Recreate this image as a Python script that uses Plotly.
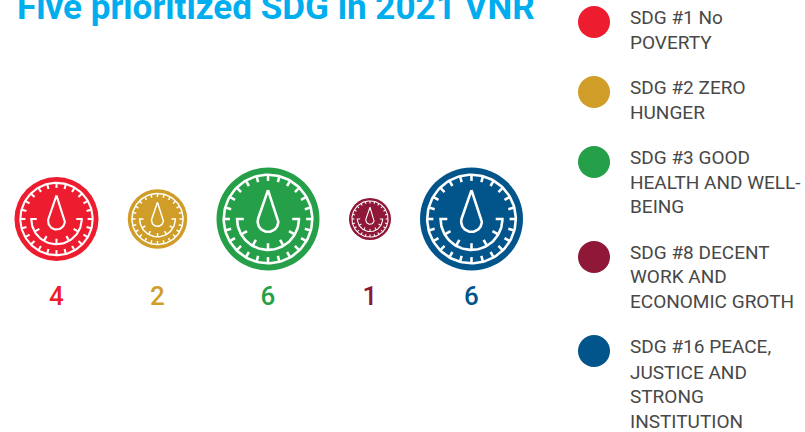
import math
import plotly.graph_objects as go

# ---- data ----
TITLE = "Five prioritized SDG in 2021 VNR"
values = [4, 2, 6, 1, 6]
colors = ["#ED1C2E", "#CF9D28", "#259F48", "#8F1838", "#02558B"]
legend_lines = [
    ["SDG #1 No", "POVERTY"],
    ["SDG #2 ZERO", "HUNGER"],
    ["SDG #3 GOOD", "HEALTH AND WELL-", "BEING"],
    ["SDG #8 DECENT", "WORK AND", "ECONOMIC GROTH"],
    ["SDG #16 PEACE,", "JUSTICE AND", "STRONG", "INSTITUTION"],
]

# ---- layout (pixel-scale axes) ----
W, H = 805, 432
centers_x = [56.5, 157.5, 268, 370, 471.5]
center_y = 219
label_y = 298.5
MAX_R = 51.5
legend_dot_x = 594
legend_dot_y = [22, 92, 162, 257, 351]
legend_text_x = 630
legend_text_y = [
    [17, 42],
    [87, 112],
    [157, 182, 206],
    [252, 276, 301],
    [346, 372, 396, 421],
]
title_color = "#00AEEF"
text_color = "#484848"


def radius(v):
    return MAX_R * math.sqrt(v / max(values))


def glyph(cx, cy, r):
    """Gauge glyph (outline paths) scaled to a bubble of radius r."""
    xs, ys = [], []

    def polar(rad, deg):
        a = math.radians(deg)
        return cx + rad * math.sin(a), cy - rad * math.cos(a)

    def path(points):
        for p in points:
            xs.append(p[0])
            ys.append(p[1])
        xs.append(None)
        ys.append(None)

    # rim ring and its ticks
    path([polar(0.86 * r, d) for d in range(0, 361, 3)])
    for d in range(0, 360, 15):
        path([polar(0.86 * r, d), polar(0.74 * r, d)])
    # inner arc with end caps and ticks
    ra = 0.6 * r
    arc = [polar(ra, d) for d in range(90, 271, 3)]
    path([(cx + 0.47 * r, cy)] + arc + [(cx - 0.47 * r, cy)])
    for d in (120, 150, 180, 210, 240):
        path([polar(ra, d), polar(ra - 0.13 * r, d)])
    # drop
    rd = 0.2 * r
    dy = cy + 0.05 * r
    tip = cy - 0.56 * r
    h = dy - tip
    t = math.degrees(math.acos(rd / h))
    drop = [(cx, tip)]
    for d in range(int(t), int(360 - t) + 1, 5):
        a = math.radians(d)
        drop.append((cx + rd * math.sin(a), dy - rd * math.cos(a)))
    drop.append((cx, tip))
    path(drop)
    return xs, ys


fig = go.Figure()

# value bubbles, area proportional to value
fig.add_trace(go.Scatter(
    x=centers_x,
    y=[center_y] * len(values),
    mode="markers",
    marker=dict(
        size=values, sizemode="area",
        sizeref=max(values) / 2 / MAX_R ** 2,
        color=colors, line=dict(width=0), opacity=1,
    ),
    hoverinfo="skip",
))

# gauge glyphs
for cx, v in zip(centers_x, values):
    r = radius(v)
    gx, gy = glyph(cx, center_y, r)
    fig.add_trace(go.Scatter(
        x=gx, y=gy, mode="lines",
        line=dict(color="white", width=max(r * 0.05, 0.8)),
        hoverinfo="skip", connectgaps=False,
    ))

# value labels
fig.add_trace(go.Scatter(
    x=centers_x,
    y=[label_y] * len(values),
    mode="text",
    text=[str(v) for v in values],
    textposition="middle center",
    textfont=dict(family="Roboto", size=26, color=colors, weight=500),
    hoverinfo="skip",
))

# legend dots
fig.add_trace(go.Scatter(
    x=[legend_dot_x] * len(colors),
    y=legend_dot_y,
    mode="markers",
    marker=dict(size=32, color=colors, line=dict(width=0)),
    hoverinfo="skip",
))

# legend text, one line at a time
annotations = []
for lines, ys in zip(legend_lines, legend_text_y):
    for line, y in zip(lines, ys):
        annotations.append(dict(
            x=legend_text_x, y=y, xref="x", yref="y",
            text=line, showarrow=False,
            xanchor="left", yanchor="middle", align="left",
            xshift=-2,
            font=dict(family="Roboto", size=19, color=text_color, weight=400),
        ))

# title, cut by the top of the frame as in the reference
annotations.append(dict(
    x=17, y=7, xref="x", yref="y",
    text=TITLE, showarrow=False,
    xanchor="left", yanchor="middle", xshift=-2,
    font=dict(family="Roboto", size=35.1, color=title_color, weight=700),
))

fig.update_layout(
    width=W, height=H,
    margin=dict(l=0, r=0, t=0, b=0),
    paper_bgcolor="white", plot_bgcolor="white",
    showlegend=False,
    annotations=annotations,
    xaxis=dict(range=[0, W], visible=False, fixedrange=True),
    yaxis=dict(range=[H, 0], visible=False, fixedrange=True),
)

fig.write_html(
    "out.html",
    config=dict(displayModeBar=False),
    post_script="document.body.style.margin='0';document.documentElement.style.overflow='hidden';",
)
